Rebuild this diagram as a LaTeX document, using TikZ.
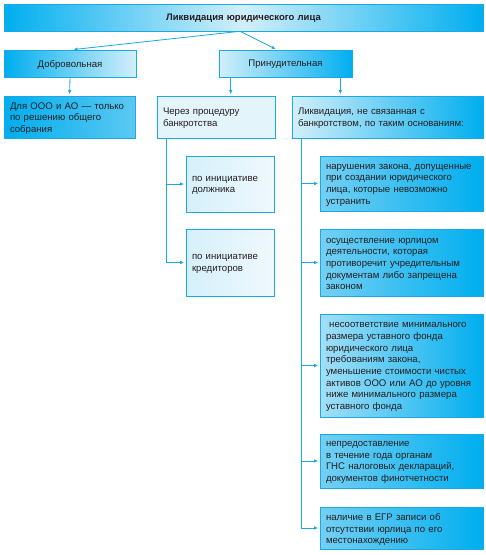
\documentclass[tikz,border=0pt]{standalone}
\usepackage{fontspec}
\setmainfont{Liberation Sans}
\usetikzlibrary{arrows.meta,calc}
\definecolor{dk}{HTML}{00AEEF}
\definecolor{md}{HTML}{5CC8F2}
\definecolor{lt}{HTML}{D2EFFA}
\definecolor{pl}{HTML}{E4F4FB}
\definecolor{ln}{HTML}{1AA9E2}
\definecolor{tx}{HTML}{231F20}
\begin{document}
\begin{tikzpicture}[x=1pt,y=-1pt,
  box/.style={draw=ln, line width=0.6pt, inner sep=0pt, align=left,
    font=\fontsize{9.6}{11.7}\selectfont, text=tx,
    execute at end node={\endgraf\vspace*{-3pt}}},
  dkl/.style={left color=dk, right color=lt},
  ltd/.style={left color=lt, right color=dk},
  rbox/.style={box, left color=md!80!lt, right color=dk, minimum width=163pt, text width=151pt},
  pale/.style={box, left color=lt!80!pl, right color=pl!60!white},
  conn/.style={draw=ln, line width=0.8pt},
  arr/.style={conn, -{Latex[length=4pt,width=3.5pt]}, shorten >=1.5pt}
]
\useasboundingbox (0,0) rectangle (486,555);
\fill[white] (0,0) rectangle (486,555);

\node[box, align=center, font=\bfseries\fontsize{9.5}{11.7}\selectfont,
  left color=dk, right color=dk, middle color=lt,
  minimum width=479pt, minimum height=27pt, text width=460pt] (top) at (243.5,17.5) {Ликвидация юридического лица};

\node[box, dkl, align=center, minimum width=132pt, minimum height=27pt, text width=120pt] (dob) at (70,63.5) {Добровольная};
\node[box, ltd, align=center, minimum width=133pt, minimum height=27pt, text width=120pt] (prin) at (285.5,63.5) {Принудительная};

\node[box, left color=dk, right color=md, minimum width=131pt, minimum height=42pt, text width=119pt] (dla) at (69.5,117) {Для ООО и АО — только\\по решению общего\\собрания};
\node[box, fill=pl, minimum width=118pt, minimum height=42pt, text width=106pt] (cher) at (216,117) {Через процедуру\\банкротства};
\node[box, ltd, minimum width=191pt, minimum height=42pt, text width=179pt] (likv) at (387.5,117) {Ликвидация, не связанная с\\банкротством, по таким основаниям:};

\node[pale, minimum width=88pt, minimum height=56pt, text width=76pt] (dol) at (230,184) {по инициативе\\должника};
\node[pale, minimum width=88pt, minimum height=67pt, text width=76pt] (kred) at (230,262.5) {по инициативе\\кредиторов};

\node[rbox, minimum height=55pt] (r1) at (401.5,183.5) {нарушения закона, допущенные\\при создании юридического\\лица, которые невозможно\\устранить};
\node[rbox, minimum height=67pt] (r2) at (401.5,262.5) {осуществление юрлицом\\деятельности, которая\\противоречит учредительным\\документам либо запрещена\\законом};
\node[rbox, left color=lt!60!md, minimum height=103pt] (r3) at (401.5,365.5) {\ несоответствие минимального\\размера уставного фонда\\юридического лица\\требованиям закона,\\уменьшение стоимости чистых\\активов ООО или АО до уровня\\ниже минимального размера\\уставного фонда};
\node[rbox, minimum height=54pt] (r4) at (401.5,461) {непредоставление\\в течение года органам\\ГНС налоговых деклараций,\\документов финотчетности};
\node[rbox, minimum height=42pt] (r5) at (401.5,528) {наличие в ЕГР записи об\\отсутствии юрлица по его\\местонахождению};

% connectors
\coordinate (ts) at ([xshift=-3.5pt]top.south);
\draw[arr] (ts) -- ([xshift=2pt]dob.north);
\draw[arr] (ts) -- ([xshift=-8.5pt]prin.north);
\draw[arr] (dob.south) -- (dla.north);
\coordinate (pl1) at ([xshift=12pt]prin.south west);
\coordinate (pl2) at ([xshift=-12pt]prin.south east);
\draw[arr] (pl1) -- (pl1 |- cher.north);
\draw[arr] (pl2) -- (pl2 |- likv.north);

\coordinate (cl) at ([xshift=10pt]cher.south west);
\draw[arr] (cl |- dol.west) -- (dol.west);
\draw[arr] (cl) |- (kred.west);

\coordinate (rl) at ([xshift=10pt]likv.south west);
\draw[arr] (rl |- r1.west) -- (r1.west);
\draw[arr] (rl |- r2.west) -- (r2.west);
\draw[arr] (rl |- r3.west) -- (r3.west);
\draw[arr] (rl |- r4.west) -- (r4.west);
\draw[arr] (rl) |- (r5.west);
\end{tikzpicture}
\end{document}
